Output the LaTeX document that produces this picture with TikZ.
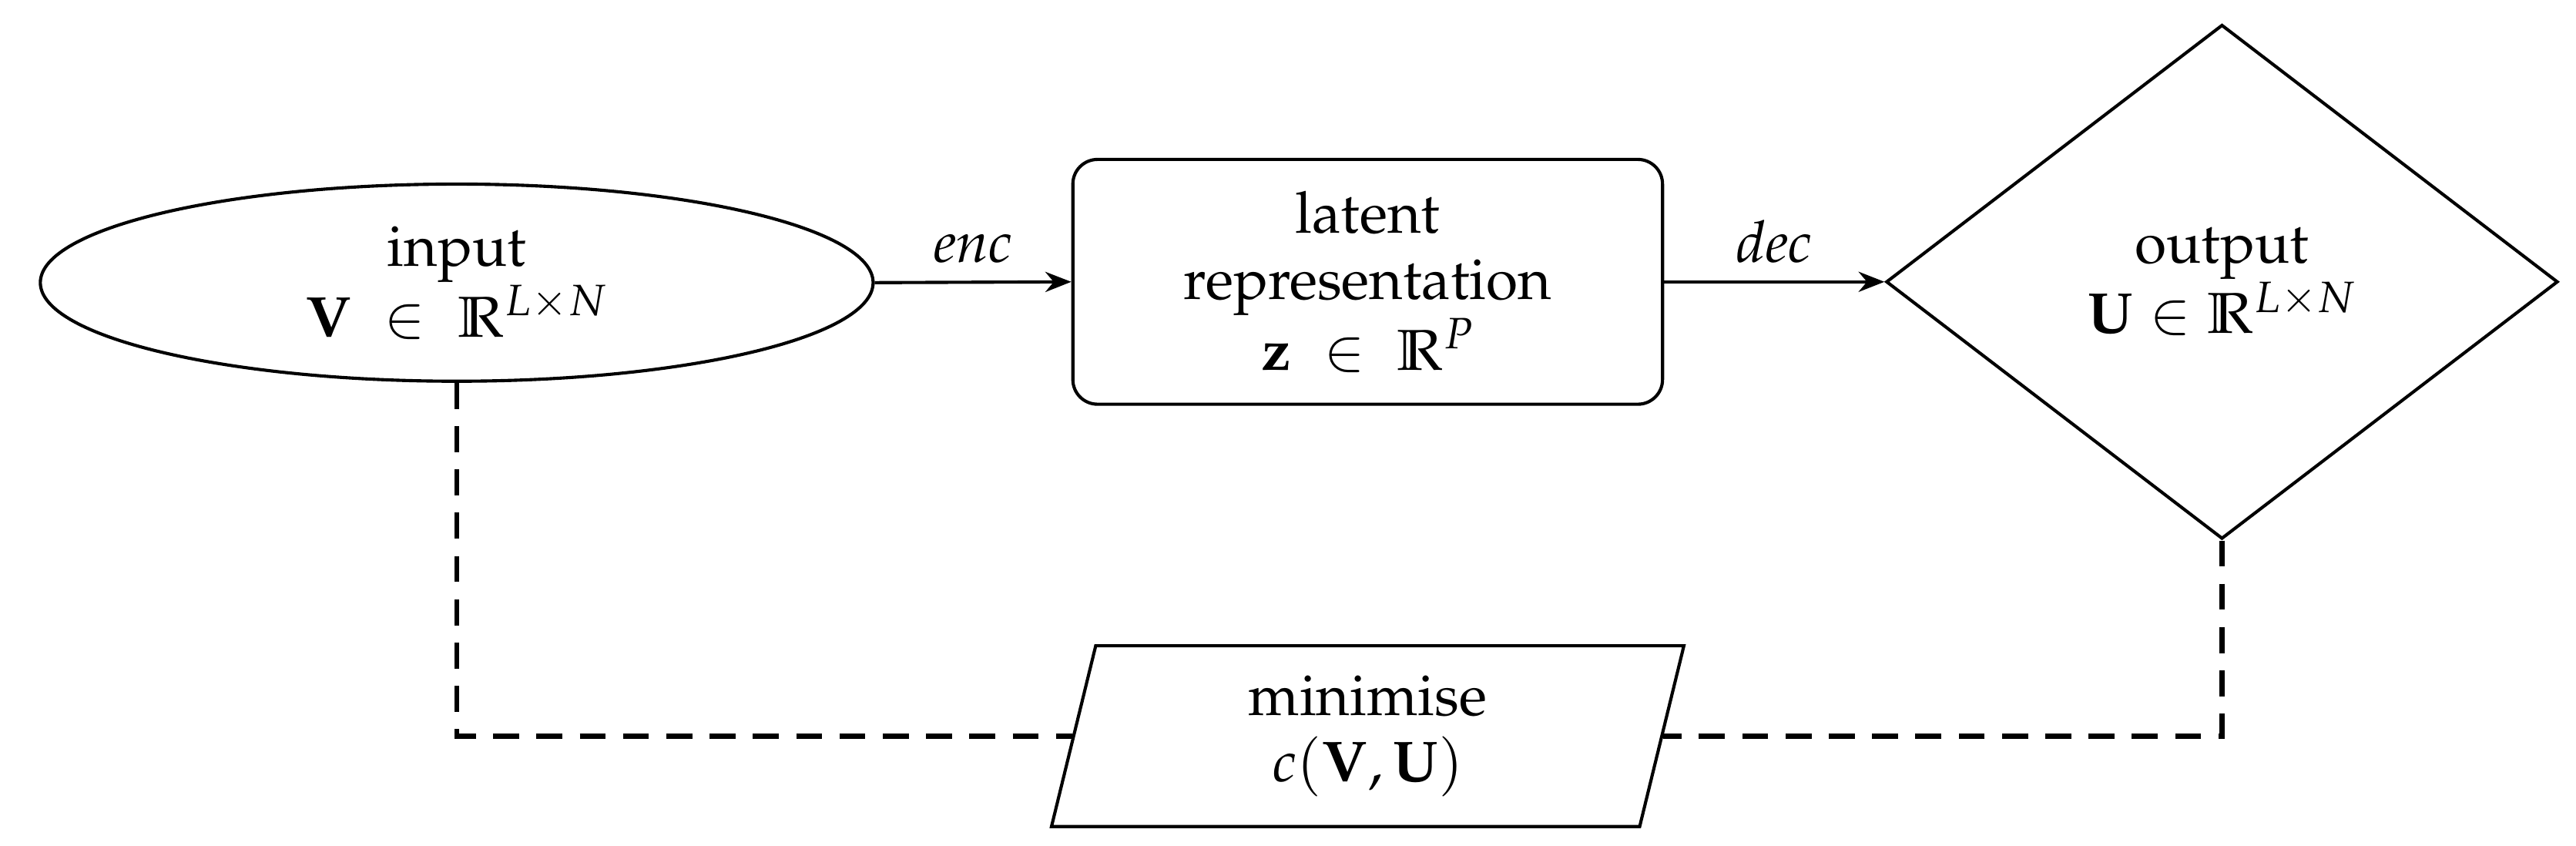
\documentclass[tikz,border=0pt]{standalone}
\usepackage[T1]{fontenc}
\usepackage{mathpazo}
\usepackage{amssymb}
\usetikzlibrary{shapes.geometric,arrows.meta}
\begin{document}
\begin{tikzpicture}[x=0.02cm,y=-0.02cm,
  every node/.style={align=center,font=\fontsize{20}{23}\selectfont,line width=1.1pt,inner sep=0pt},
  conn/.style={line width=1.1pt,-{Stealth[length=9pt,width=7pt]}},
  dashconn/.style={line width=1.7pt,dash pattern=on 9pt off 6pt}]
\useasboundingbox (0,0) rectangle (1568,514.4);
\node[draw,ellipse,minimum width=10.14cm,minimum height=2.4cm] (in) at (278,172) {input\\$\mathbf{V}\;\in\;\mathbb{R}^{L\times N}$};
\node[draw,rounded corners=0.3cm,minimum width=7.18cm,minimum height=2.98cm] (lat) at (832.5,171.5) {latent\\representation\\$\mathbf{z}\;\in\;\mathbb{R}^{P}$};
\node[draw,diamond,minimum width=8.18cm,minimum height=6.26cm] (out) at (1352.5,171.5) {output\\$\mathbf{U}\in\mathbb{R}^{L\times N}$};
\node[draw,trapezium,trapezium left angle=70,trapezium right angle=110,trapezium stretches body,minimum width=7.7cm,minimum height=2.2cm] (min) at (832.5,448) {minimise\\$c(\mathbf{V},\mathbf{U})$};
\draw[conn] (in.east) -- node[above=6pt]{\textit{enc}} (lat.west);
\draw[conn] (lat.east) -- node[above=6pt]{\textit{dec}} (out.west);
\draw[dashconn] (in.south) |- (min.west);
\draw[dashconn] (out.south) |- (min.east);
\end{tikzpicture}
\end{document}
